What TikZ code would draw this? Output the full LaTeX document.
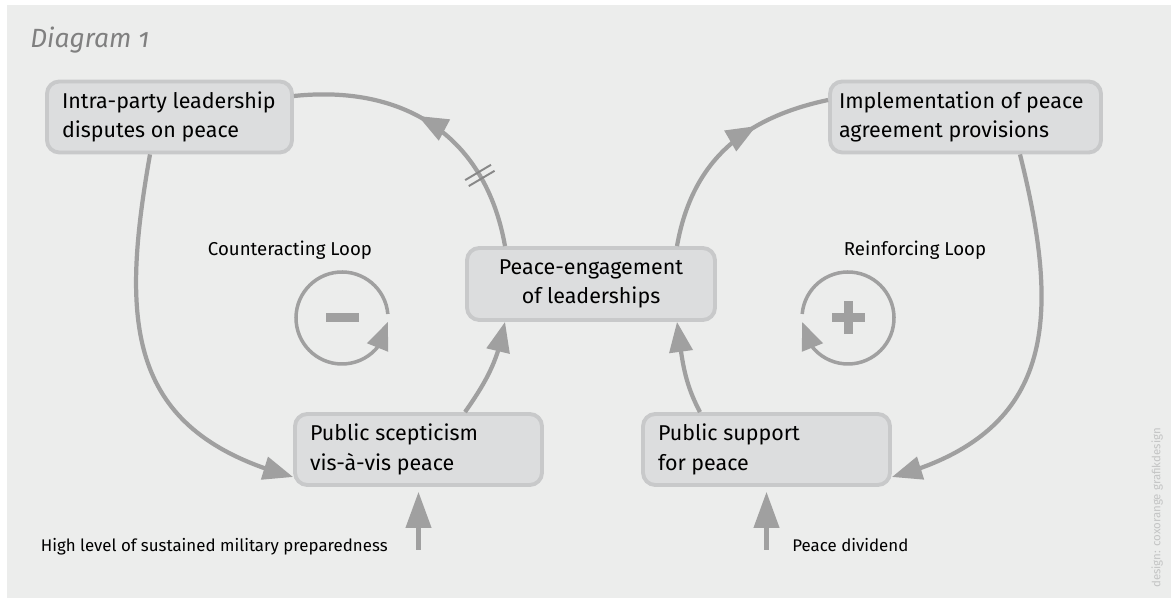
\documentclass[tikz,border=0pt]{standalone}
\usepackage{fontspec}
\setmainfont{Fira Sans}[Numbers=OldStyle]
\usetikzlibrary{arrows.meta, bending, positioning, calc, decorations.markings}
\definecolor{Backdrop}{RGB}{236,237,236}
\definecolor{BoxFill}{RGB}{220,221,222}
\definecolor{BoxLine}{RGB}{200,201,202}
\definecolor{LoopGrey}{RGB}{160,160,160}
\definecolor{TitleGrey}{RGB}{128,128,128}
\definecolor{CreditGrey}{RGB}{195,196,196}
\newcommand{\factorfont}{\fontsize{12.2}{16.8}\selectfont}
\tikzset{
  loophead/.tip={Triangle[length=0.6cm,width=0.46cm]},
  feedhead/.tip={Triangle[length=0.72cm,width=0.5cm]}
}

\begin{document}
\begin{tikzpicture}[
        factor/.style={draw=BoxLine,fill=BoxFill,line width=2.2pt,
                       rounded corners=7pt,minimum height=1.42cm,
                       inner xsep=0.3cm,text width=#1,align=flush left,
                       font=\factorfont},
        hub/.style={draw=BoxLine,fill=BoxFill,line width=2.2pt,
                    rounded corners=7pt,minimum height=1.44cm,
                    minimum width=4.96cm,align=center,font=\factorfont},
        loopline/.style={color=LoopGrey,line width=2.4pt},
        link/.style={loopline,-loophead},
        feed/.style={loopline,-feedhead},
        delaybar/.style={draw=LoopGrey!85!black,line width=1.1pt},
        symring/.style={color=LoopGrey,line width=2pt,
                        -{Triangle[length=0.55cm,width=0.44cm]}},
        sign/.style={fill=LoopGrey},
        looplabel/.style={font=\fontsize{10.6}{13}\selectfont},
        inlabel/.style={font=\fontsize{9.6}{11}\selectfont,inner sep=0pt}
      ]
        \useasboundingbox (0,0) rectangle (23.42,11.96);
        \fill[Backdrop] (0.14,0) rectangle (23.42,11.86);

        \node[anchor=west,inner sep=0pt,text=TitleGrey,
              font=\fontsize{15}{18}\selectfont\itshape] (title)
          at (0.6,11.16) {Diagram 1};

        \node[factor=4.30cm] (a) at (3.39,9.62)
          {Intra-party leadership\\disputes on peace};
        \node[factor=5.06cm,inner xsep=0.18cm] (b) at (19.31,9.62)
          {Implementation of peace\\agreement provisions};
        \node[hub] (c) at (11.82,6.28) {Peace-engagement\\of leaderships};
        \node[factor=4.34cm] (d) at (8.37,2.97)
          {Public scepticism\\vis-à-vis peace};
        \node[factor=4.34cm] (e) at (15.33,2.97)
          {Public support\\for peace};

        \node[looplabel] (cl) at (5.8,6.96) {Counteracting Loop};
        \node[looplabel] (rl) at (18.3,6.96) {Reinforcing Loop};

        \draw[loopline,postaction={decorate},decoration={markings,
            mark=at position 0.26 with {\draw[delaybar]
              (-0.07,-0.3)--(-0.07,0.3) (0.07,-0.3)--(0.07,0.3);},
            mark=at position 0.56 with {\arrow{loophead}}}]
          ([xshift=-1.72cm]c.north) to[out=100,in=6,looseness=1.1]
          ([yshift=0.42cm]a.east);
        \draw[link] ([xshift=-0.39cm]a.south)
          to[out=260,in=165,looseness=1.25] ([yshift=-0.55cm]d.west);
        \draw[link] ([xshift=0.93cm]d.north)
          to[out=55,in=-100] ([xshift=-1.72cm]c.south);

        \draw[loopline,postaction={decorate},decoration={markings,
            mark=at position 0.66 with {\arrow{loophead}}}]
          ([xshift=1.72cm]c.north) to[out=80,in=192,looseness=1.05]
          ([yshift=0.34cm]b.west);
        \draw[link] ([xshift=1.09cm]b.south)
          to[out=-76,in=15,looseness=1.25] ([yshift=-0.55cm]e.east);
        \draw[link] ([xshift=-1.33cm]e.north)
          to[out=118,in=-82] ([xshift=1.72cm]c.south);

        \coordinate (minus) at (6.84,5.6);
        \coordinate (plus) at (16.96,5.6);
        \draw[symring] (minus) ++(5:0.92) arc[start angle=5,end angle=355,radius=0.92];
        \fill[sign] ($(minus)+(-0.33,-0.09)$) rectangle ++(0.66,0.18);
        \draw[symring] (plus) ++(175:0.92) arc[start angle=175,end angle=-175,radius=0.92];
        \fill[sign] ($(plus)+(-0.33,-0.09)$) rectangle ++(0.66,0.18);
        \fill[sign] ($(plus)+(-0.09,-0.33)$) rectangle ++(0.18,0.66);

        \coordinate (mil) at (8.37,0.96);
        \coordinate (div) at (15.33,0.96);
        \draw[feed] (mil) -- ([yshift=-0.1cm]d.south);
        \draw[feed] (div) -- ([yshift=-0.1cm]e.south);
        \node[inlabel,anchor=base east] (miltext) at (7.76,0.93)
          {High level of sustained military preparedness};
        \node[inlabel,anchor=base west] (divtext) at (15.84,0.93)
          {Peace dividend};

        \node[rotate=90,anchor=west,inner sep=0pt,text=CreditGrey,
              font=\fontsize{6.5}{7}\selectfont] (credit)
          at (23.14,0.2) {design: coxorange grafikdesign};
      \end{tikzpicture}
\end{document}
